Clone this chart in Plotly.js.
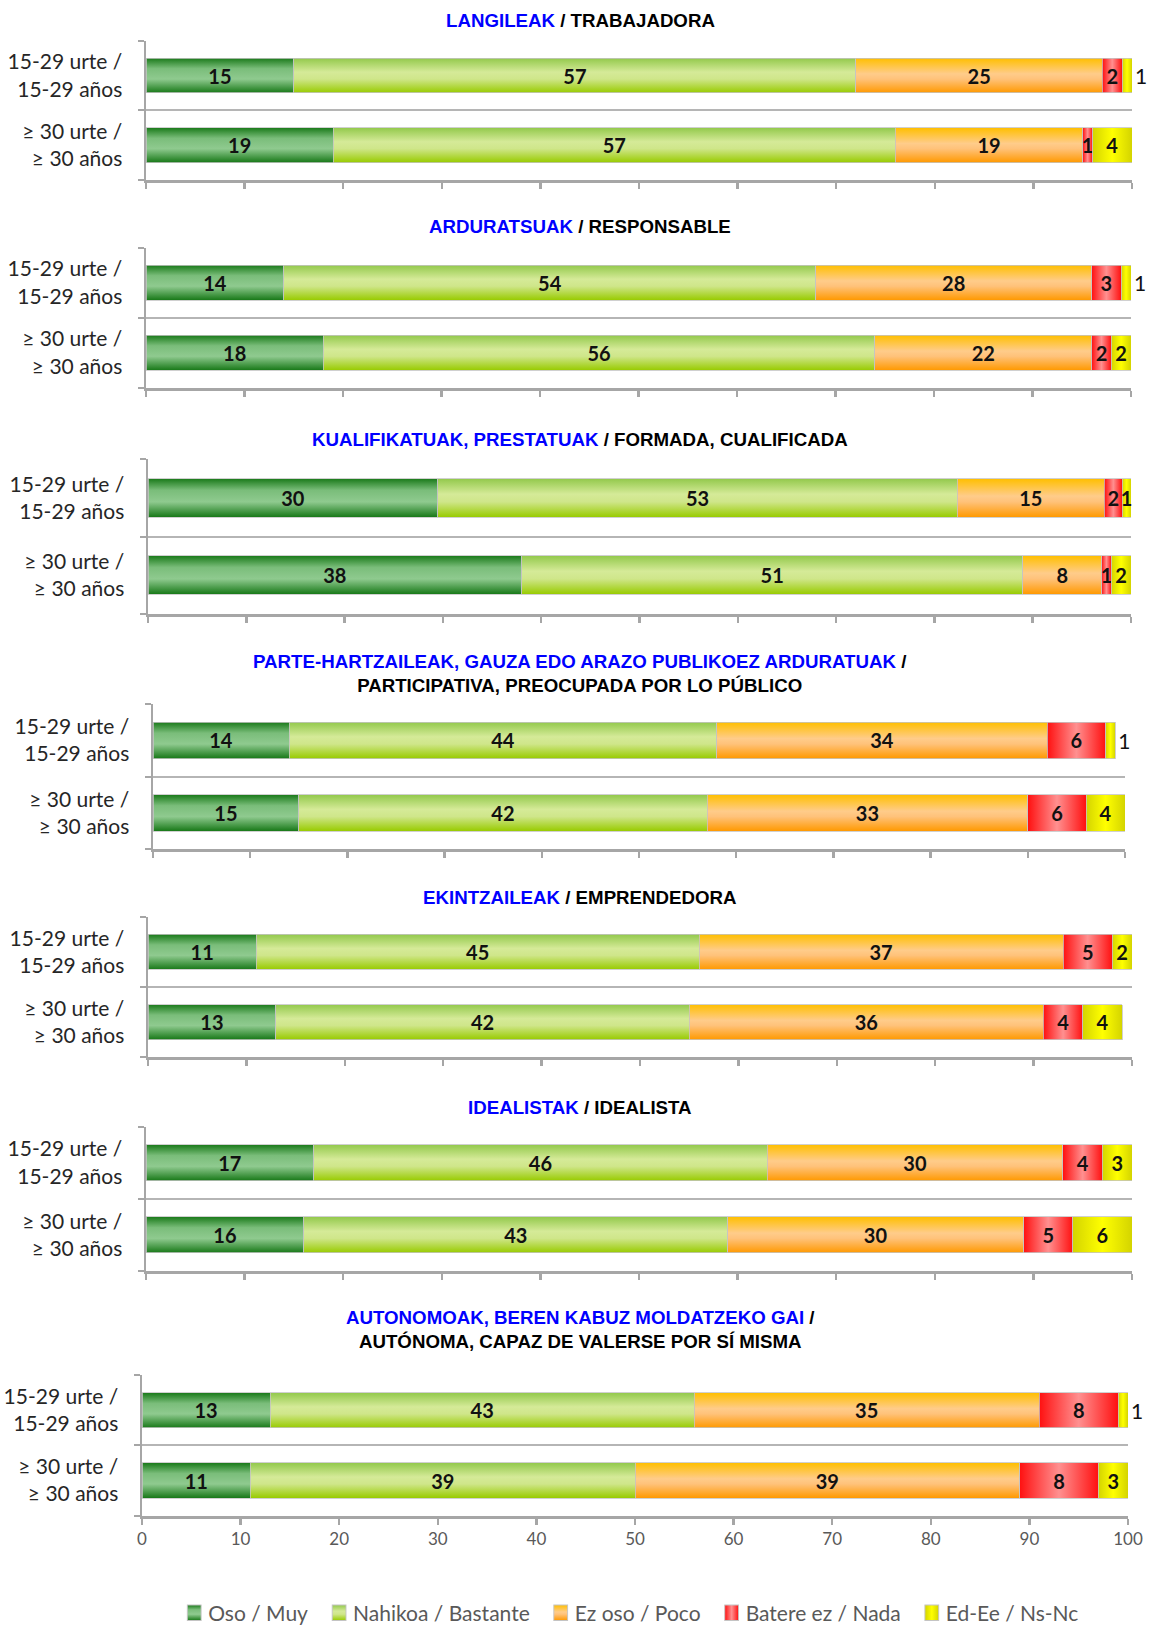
<!DOCTYPE html>
<html><head><meta charset="utf-8">
<script src="https://cdn.plot.ly/plotly-3.0.1.min.js"></script>
<style>html,body{margin:0;padding:0;background:#fff}</style>
</head><body><div id="chart" style="width:1149px;height:1625px"></div>
<script>
// ---------------- DATA ----------------
const ageGroups = ['15-29 urte /<br>15-29 años', '≥ 30 urte /<br>≥ 30 años'];
const seriesNames = ['Oso / Muy', 'Nahikoa / Bastante', 'Ez oso / Poco', 'Batere ez / Nada', 'Ed-Ee / Ns-Nc'];
const titlesEu = ['LANGILEAK', 'ARDURATSUAK', 'KUALIFIKATUAK, PRESTATUAK',
  'PARTE-HARTZAILEAK, GAUZA EDO ARAZO PUBLIKOEZ ARDURATUAK', 'EKINTZAILEAK', 'IDEALISTAK',
  'AUTONOMOAK, BEREN KABUZ MOLDATZEKO GAI'];
const titlesEs = ['TRABAJADORA', 'RESPONSABLE', 'FORMADA, CUALIFICADA',
  'PARTICIPATIVA, PREOCUPADA POR LO PÚBLICO', 'EMPRENDEDORA', 'IDEALISTA',
  'AUTÓNOMA, CAPAZ DE VALERSE POR SÍ MISMA'];
// each entry: [15-29 urte, >= 30 urte]  (labels are shown rounded)
const oso     = [[15,19],[14,18],[29.5,38],[14,15],[11,13],[17,16],[13,11]];
const nahikoa = [[57,57],[54,56],[52.8,51],[44,42],[45,42],[46,43],[43,39]];
const ezOso   = [[25,19],[28,22],[15,8],[34,33],[37,36],[30,30],[35,39]];
const batere  = [[2,1],[3,2],[1.8,1],[6,6],[5,4],[4,5],[8,8]];
const nsnc    = [[1,4],[1,2],[0.9,2],[1,4],[2,4],[3,6],[1,3]];
const xTicks  = [0,10,20,30,40,50,60,70,80,90,100];

// ---------------- STYLE / LAYOUT ----------------
const W = 1149, H = 1625;
const series = [oso, nahikoa, ezOso, batere, nsnc];
const baseColors = ['#5aab5a', '#bde070', '#ffb347', '#ff5a5a', '#eeee00'];
const grads = [
  {id:'gOso', h:false, stops:[[0,'#1a7a1a'],[0.3,'#7abd7a'],[0.6,'#8fca8f'],[1,'#177817']]},
  {id:'gNah', h:false, stops:[[0,'#93c94c'],[0.4,'#d5ea98'],[0.6,'#cfe68a'],[1,'#98cb00']]},
  {id:'gEz',  h:false, stops:[[0,'#ffbf00'],[0.45,'#ffcc8a'],[0.6,'#ffc27a'],[1,'#ff9900']]},
  {id:'gBat', h:true,  stops:[[0,'#ff1010'],[0.5,'#ff9090'],[1,'#ff1010']]},
  {id:'gNs',  h:true,  stops:[[0,'#d4d400'],[0.5,'#ffff00'],[1,'#d4d400']]}
];
// panel geometry in pixels: top, bottom(axis), left, right, title centre
const geo = [
  {t:41,  b:181,  l:146, r:1132, ty:21},
  {t:249, b:390,  l:146, r:1131, ty:228},
  {t:462, b:617,  l:148, r:1131, ty:442},
  {t:708, b:854,  l:153, r:1125, ty:677},
  {t:922, b:1063, l:148, r:1132, ty:903},
  {t:1133,b:1278, l:146, r:1132, ty:1114},
  {t:1383,b:1524, l:142, r:1128, ty:1337}
];
const titleBreak = [false,false,false,true,false,false,true];
const outsideLast = [[true,false],[true,false],[false,false],[true,false],[false,false],[false,false],[true,false]];

const labelFont = 'Lato, "Open Sans", sans-serif';
const traces = [];
const layout = {
  width: W, height: H, autosize: false,
  margin: {l:0, r:0, t:0, b:0},
  paper_bgcolor: '#ffffff', plot_bgcolor: 'rgba(0,0,0,0)',
  barmode: 'stack', bargap: 0.5,
  showlegend: true,
  legend: {orientation:'h', x:0.545, xanchor:'center', y:1-1613/H, yanchor:'middle',
           font:{family:labelFont, size:21, color:'#595959'}, traceorder:'normal', itemwidth:30},
  annotations: []
};

for (let p = 0; p < 7; p++) {
  const sfx = p === 0 ? '' : String(p + 1);
  const g = geo[p];
  series.forEach((arr, s) => {
    const vals = arr[p];
    const pos = vals.map((v, i) => (s === 4 && outsideLast[p][i]) ? 'outside' : 'inside');
    traces.push({
      type: 'bar', orientation: 'h',
      x: vals, y: ageGroups.map((_, i) => ageGroups.length - 1 - i),
      name: seriesNames[s], legendgroup: 'g' + s, showlegend: p === 0, meta: s,
      xaxis: 'x' + sfx, yaxis: 'y' + sfx,
      marker: {color: baseColors[s], line: {color: '#c4c4c4', width: 0.8}},
      texttemplate: '%{x:.0f}', textposition: pos,
      insidetextanchor: 'middle', constraintext: 'none', cliponaxis: false,
      textfont: {family: labelFont, size: 20, color: '#111111', weight: 'bold'},
      insidetextfont: {family: labelFont, size: 20, color: '#111111', weight: 'bold'},
      outsidetextfont: {family: labelFont, size: 21, color: '#111111', weight: 'normal'},
      hoverinfo: 'skip'
    });
  });
  layout['xaxis' + sfx] = {
    domain: [g.l / W, g.r / W], anchor: 'y' + sfx, range: [0, 100],
    tickmode: 'array', tickvals: xTicks, showticklabels: p === 6,
    tickfont: {family: labelFont, size: 17, color: '#595959'},
    ticks: 'outside', ticklen: 6, tickwidth: 2.5, tickcolor: '#a6a6a6',
    showline: true, linecolor: '#a6a6a6', linewidth: 3,
    showgrid: false, zeroline: false, fixedrange: true
  };
  layout['yaxis' + sfx] = {
    domain: [1 - g.b / H, 1 - g.t / H], anchor: 'x' + sfx, range: [-0.5, 1.5],
    tickmode: 'array', tickvals: ageGroups.map((_, i) => ageGroups.length - 1 - i), ticktext: ageGroups,
    ticks: '', ticklabelstandoff: 17,
    tickfont: {family: labelFont, size: 21, color: '#262626'},
    showline: true, linecolor: '#a6a6a6', linewidth: 2.5,
    showgrid: false, zeroline: false, fixedrange: true,
    minor: {tickmode: 'array', tickvals: [-0.5, 0.5, 1.5], ticks: 'outside', ticklen: 6,
            tickwidth: 2, tickcolor: '#a6a6a6', showgrid: true, gridcolor: '#b5b5b5', gridwidth: 2}
  };
  layout.annotations.push({
    xref: 'paper', yref: 'paper', x: 580 / W, y: 1 - g.ty / H, xanchor: 'center', yanchor: 'middle',
    showarrow: false, align: 'center',
    text: '<span style="color:#0000ff">' + titlesEu[p] + '</span> /' + (titleBreak[p] ? '<br>' : ' ') + titlesEs[p],
    font: {family: '"Liberation Sans", Arial, sans-serif', size: 18.7, color: '#000000', weight: 'bold'}
  });
}

function applyGradients(gd) {
  const NS = 'http://www.w3.org/2000/svg';
  const svg = gd.querySelector('.main-svg');
  const defs = document.createElementNS(NS, 'defs');
  grads.forEach(g => {
    const lg = document.createElementNS(NS, 'linearGradient');
    lg.setAttribute('id', g.id);
    lg.setAttribute('x1', '0'); lg.setAttribute('y1', '0');
    lg.setAttribute('x2', g.h ? '1' : '0'); lg.setAttribute('y2', g.h ? '0' : '1');
    g.stops.forEach(([o, c]) => {
      const st = document.createElementNS(NS, 'stop');
      st.setAttribute('offset', (o * 100) + '%');
      st.setAttribute('stop-color', c);
      lg.appendChild(st);
    });
    defs.appendChild(lg);
  });
  svg.insertBefore(defs, svg.firstChild);
  gd.querySelectorAll('.barlayer .trace').forEach(tr => {
    const d = tr.__data__; const t = d && d[0] && d[0].trace; if (!t) return;
    tr.querySelectorAll('.point path').forEach(el => { el.style.fill = 'url(#' + grads[t.meta].id + ')'; });
  });
  gd.querySelectorAll('.legend .traces').forEach(tr => {
    const d = tr.__data__; const t = d && d[0] && d[0].trace; if (!t) return;
    tr.querySelectorAll('.legendpoints path').forEach(el => {
      el.style.fill = 'url(#' + grads[t.meta].id + ')';
      const old = el.getAttribute('transform') || '';
      el.setAttribute('transform', old + ' translate(6,0) scale(1.15,1.3)');
    });
  });
  // nudge legend slightly lower (to sit like the original's bottom row)
  const leg = gd.querySelector('g.legend');
  if (leg) {
    const tf = leg.getAttribute('transform') || '';
    leg.setAttribute('transform', tf + ' translate(0,9)');
  }
}

Plotly.newPlot('chart', traces, layout, {staticPlot: true, displayModeBar: false}).then(applyGradients);
</script>
</body></html>
